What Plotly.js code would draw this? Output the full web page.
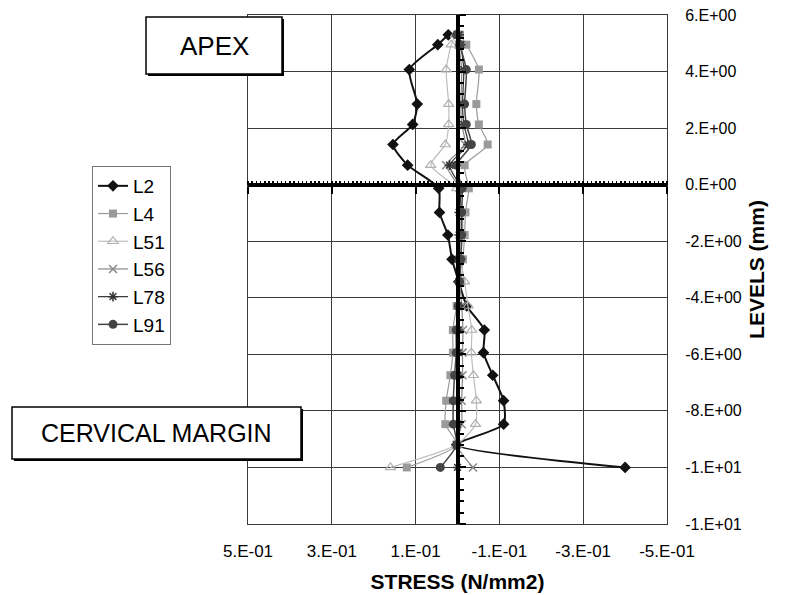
<!DOCTYPE html>
<html>
<head>
<meta charset="utf-8">
<script src="https://cdn.plot.ly/plotly-3.0.1.min.js"></script>
<style>
  html, body { margin: 0; padding: 0; background: #fff; }
  #chart { width: 796px; height: 595px; }
</style>
</head>
<body>
<div id="chart"></div>
<script>
// ---- data ----
const levels = [5.3, 4.95, 4.07, 2.85, 2.13, 1.42, 0.69, -0.13, -0.98, -1.78, -2.64, -3.43, -4.29, -5.14, -5.94, -6.74, -7.64, -8.47, -9.2, -10.0];
const L2  = [0.022, 0.047, 0.115, 0.096, 0.107, 0.154, 0.119, 0.045, 0.043, 0.023, 0.013, -0.003, -0.022, -0.064, -0.062, -0.084, -0.110, -0.110, 0.002, -0.400];
const L4  = [-0.006, -0.021, -0.051, -0.045, -0.051, -0.072, -0.017, -0.027, -0.019, -0.017, -0.013, -0.009, 0.002, 0.011, 0.011, 0.017, 0.027, 0.029, 0.002, 0.121];
const L51 = [0.005, 0.015, 0.027, 0.021, 0.021, 0.029, 0.064, 0.002, -0.012, -0.012, -0.008, -0.017, -0.025, -0.034, -0.033, -0.038, -0.045, -0.043, 0.002, 0.160];
const L56 = [0.0, -0.003, -0.010, -0.008, -0.010, -0.018, 0.027, -0.005, -0.006, -0.006, -0.005, -0.006, -0.010, -0.013, -0.012, -0.012, -0.010, -0.010, 0.002, -0.037];
const L78 = [-0.004, -0.008, -0.015, -0.012, -0.015, -0.025, 0.019, -0.008, -0.004, -0.004, -0.003, -0.003, -0.003, -0.002, -0.002, -0.001, 0.0, 0.0, 0.002, 0.0];
const L91 = [0.002, -0.005, -0.021, -0.017, -0.021, -0.033, 0.003, -0.011, -0.010, -0.010, -0.008, -0.005, -0.002, 0.003, 0.003, 0.007, 0.010, 0.010, 0.002, 0.041];

const seriesNames = ["L2", "L4", "L51", "L56", "L78", "L91"];
const xTickVals = [0.5, 0.3, 0.1, -0.1, -0.3, -0.5];
const xTickText = ["5.E-01", "3.E-01", "1.E-01", "-1.E-01", "-3.E-01", "-5.E-01"];
const yTickVals = [6, 4, 2, 0, -2, -4, -6, -8, -10, -12];
const yTickText = ["6.E+00", "4.E+00", "2.E+00", "0.E+00", "-2.E+00", "-4.E+00", "-6.E+00", "-8.E+00", "-1.E+01", "-1.E+01"];
const xRange = [0.5, -0.5];
const yRange = [-12, 6];

// ---- styles ----
const FONT = "Liberation Sans, Arial, Helvetica, sans-serif";
const styles = {
  L2:  {line: {color: "#111", width: 2},   marker: {symbol: "diamond", size: 9, color: "#111"}},
  L4:  {line: {color: "#9a9a9a", width: 1.2}, marker: {symbol: "square", size: 8, color: "#9a9a9a"}},
  L51: {line: {color: "#bdbdbd", width: 1.2}, marker: {symbol: "triangle-up-open", size: 9, color: "#b0b0b0", line: {width: 1.2}}},
  L56: {line: {color: "#888", width: 1.2},   marker: {symbol: "x-thin-open", size: 8, color: "#888", line: {width: 1.5, color: "#888"}}},
  L78: {line: {color: "#333", width: 1.2},   marker: {symbol: "asterisk-open", size: 8, color: "#333", line: {width: 1.5, color: "#333"}}},
  L91: {line: {color: "#444", width: 1.5},   marker: {symbol: "circle", size: 9, color: "#444"}}
};
const values = {L2, L4, L51, L56, L78, L91};

const traces = seriesNames.map((n, i) => ({
  type: "scatter", mode: "lines+markers", name: n,
  x: values[n], y: levels,
  line: Object.assign({shape: "spline", smoothing: 0.6}, styles[n].line),
  marker: styles[n].marker,
  legendgroup: n,
  xaxis: "x", yaxis: "y"
}));
// empty traces so the crossing axes (through zero) get drawn
traces.push({type: "scatter", x: [], y: [], xaxis: "x2", yaxis: "y2", showlegend: false, hoverinfo: "skip"});
traces.push({type: "scatter", x: [], y: [], xaxis: "x3", yaxis: "y2", showlegend: false, hoverinfo: "skip"});

// ---- layout helpers (pixel -> paper) ----
const M = {l: 248, r: 129, t: 15, b: 71};
const W = 796, H = 595;
const pw = W - M.l - M.r, ph = H - M.t - M.b;
const px = v => (v - M.l) / pw;
const py = v => (H - M.b - v) / ph;

function boxShapes(x0, y0, x1, y1) {
  return [
    {type: "rect", xref: "paper", yref: "paper", x0: px(x0 + 2), x1: px(x1 + 2), y0: py(y1 + 2), y1: py(y0 + 2),
     fillcolor: "#000", line: {width: 0}},
    {type: "rect", xref: "paper", yref: "paper", x0: px(x0), x1: px(x1), y0: py(y1), y1: py(y0),
     fillcolor: "#fff", line: {color: "#000", width: 1.5}}
  ];
}

const gridColor = "#3a3a3a";
const layout = {
  width: W, height: H,
  margin: M,
  paper_bgcolor: "#fff", plot_bgcolor: "#fff",
  font: {family: FONT, color: "#000"},
  showlegend: true,
  legend: {
    x: px(92), y: py(166), xanchor: "left", yanchor: "top",
    bgcolor: "#fff", bordercolor: "#777", borderwidth: 1,
    font: {family: FONT, size: 19, color: "#000"},
    traceorder: "grouped", tracegroupgap: 0,
    itemwidth: 30
  },
  xaxis: {
    range: xRange, tickmode: "array", tickvals: xTickVals, ticktext: xTickText,
    showgrid: true, gridcolor: gridColor, gridwidth: 1,
    zeroline: false, showline: true, mirror: true, linecolor: gridColor, linewidth: 1,
    ticks: "", ticklabelstandoff: 12,
    tickfont: {family: FONT, size: 17, color: "#000"},
    title: {text: "STRESS (N/mm2)", font: {family: FONT, size: 21, weight: "bold", color: "#000"}, standoff: 13}
  },
  yaxis: {
    range: yRange, tickmode: "array", tickvals: yTickVals, ticktext: yTickText,
    side: "right",
    showgrid: true, gridcolor: gridColor, gridwidth: 1,
    zeroline: false, showline: true, mirror: true, linecolor: gridColor, linewidth: 1,
    ticks: "", ticklabelstandoff: 14,
    tickfont: {family: FONT, size: 16, color: "#000"},
    title: {text: "LEVELS (mm)", font: {family: FONT, size: 21, weight: "bold", color: "#000"}, standoff: 8}
  },
  xaxis2: {
    overlaying: "x", anchor: "free", position: (0 - yRange[0]) / (yRange[1] - yRange[0]), side: "bottom",
    range: xRange, tickmode: "array", tickvals: xTickVals,
    showline: true, linewidth: 4, linecolor: "#000",
    ticks: "outside", ticklen: 7, tickwidth: 2, tickcolor: "#000",
    showticklabels: false, showgrid: false, zeroline: false
  },
  xaxis3: {
    overlaying: "x", anchor: "free", position: (0 - yRange[0]) / (yRange[1] - yRange[0]), side: "top",
    range: xRange, tickmode: "linear", tick0: 0, dtick: 0.01,
    showline: false,
    ticks: "outside", ticklen: 4, tickwidth: 1.5, tickcolor: "#000",
    showticklabels: false, showgrid: false, zeroline: false
  },
  yaxis2: {
    overlaying: "y", anchor: "free", position: (xRange[0] - 0) / (xRange[0] - xRange[1]), side: "right",
    range: yRange, tickmode: "linear", tick0: 0, dtick: 2,
    showline: true, linewidth: 4, linecolor: "#000",
    ticks: "outside", ticklen: 6, tickwidth: 2, tickcolor: "#000",
    minor: {ticks: "outside", dtick: 0.4, tick0: 0, ticklen: 4, tickwidth: 2, tickcolor: "#000", showgrid: false},
    showticklabels: false, showgrid: false, zeroline: false
  },
  shapes: [].concat(boxShapes(146, 17, 282, 74), boxShapes(12, 407, 301, 459)),
  annotations: [
    {xref: "paper", yref: "paper", x: px(214), y: py(45.5), text: "APEX", showarrow: false,
     font: {family: FONT, size: 26, color: "#000"}, xanchor: "center", yanchor: "middle"},
    {xref: "paper", yref: "paper", x: px(156.5), y: py(433), text: "CERVICAL MARGIN", showarrow: false,
     font: {family: FONT, size: 25, color: "#000"}, xanchor: "center", yanchor: "middle"}
  ]
};

Plotly.newPlot("chart", traces, layout, {staticPlot: true, displayModeBar: false});
</script>
</body>
</html>
